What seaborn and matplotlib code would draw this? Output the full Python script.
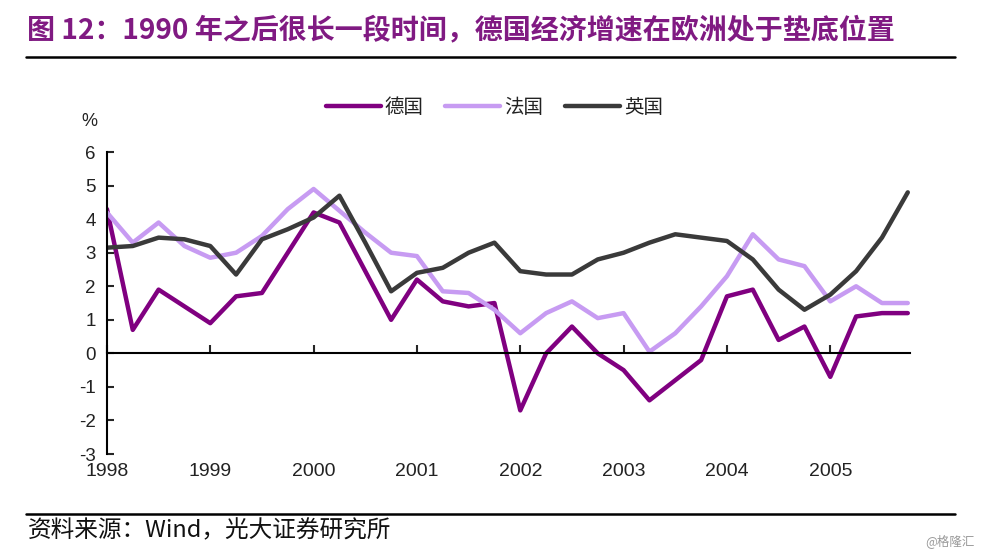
import numpy as np
import pandas as pd
import matplotlib
matplotlib.use("Agg")
import matplotlib.pyplot as plt
import seaborn as sns

# quarterly GDP growth, 1998Q1 - 2005Q4 (%)
germany = [4.3, 0.7, 1.9, 1.4, 0.9, 1.7, 1.8, 3.0, 4.2, 3.9, 2.45, 1.0,
           2.2, 1.55, 1.4, 1.5, -1.7, 0.0, 0.8, 0.0, -0.5, -1.4, -0.8, -0.2,
           1.7, 1.9, 0.4, 0.8, -0.7, 1.1, 1.2, 1.2]
france = [4.2, 3.3, 3.9, 3.2, 2.85, 3.0, 3.5, 4.3, 4.9, 4.25, 3.6, 3.0,
          2.9, 1.85, 1.8, 1.3, 0.6, 1.2, 1.55, 1.05, 1.2, 0.05, 0.6, 1.4,
          2.3, 3.55, 2.8, 2.6, 1.55, 2.0, 1.5, 1.5]
uk = [3.15, 3.2, 3.45, 3.4, 3.2, 2.35, 3.4, 3.7, 4.05, 4.7, 3.3, 1.85,
      2.4, 2.55, 3.0, 3.3, 2.45, 2.35, 2.35, 2.8, 3.0, 3.3, 3.55, 3.45,
      3.35, 2.8, 1.9, 1.3, 1.75, 2.45, 3.45, 4.8]
series_names = ["德国", "法国", "英国"]
year_labels = ["1998", "1999", "2000", "2001", "2002", "2003", "2004", "2005"]

quarters = np.arange(len(germany))
df = pd.DataFrame({"q": quarters, "德国": germany, "法国": france, "英国": uk})
df = df.melt(id_vars="q", var_name="country", value_name="growth")

sns.set_style("white")
plt.rcParams["font.family"] = ["Liberation Sans", "Noto Sans CJK SC", "DejaVu Sans"]
plt.rcParams["axes.unicode_minus"] = False

fig = plt.figure(figsize=(9.81, 5.53), dpi=100)
ax = fig.add_axes([0.109, 0.179, 0.819, 0.546])

palette = {"德国": "#800080", "法国": "#C79BF2", "英国": "#3A3A3A"}
sns.lineplot(data=df, x="q", y="growth", hue="country", hue_order=series_names,
             palette=palette, linewidth=3.2, ax=ax)

ax.set_xlim(0, 31.1)
ax.set_ylim(-3, 6)
ax.set_yticks(range(-3, 7))
ax.set_xticks(range(0, 32, 4))
ax.set_xticklabels(year_labels)
ax.set_xlabel("")
ax.set_ylabel("")

for s in ["top", "right"]:
    ax.spines[s].set_visible(False)
ax.spines["bottom"].set_position(("data", 0))
ax.spines["bottom"].set_color("black")
ax.spines["bottom"].set_linewidth(1.5)
ax.spines["left"].set_color("black")
ax.spines["left"].set_linewidth(1.5)

ax.tick_params(axis="y", direction="in", length=5, width=1.5, labelsize=13.5,
               pad=8, left=True, labelcolor="#222222")
ax.tick_params(axis="x", direction="in", length=6, width=1.5, labelsize=14,
               pad=79, bottom=True, labelcolor="#222222")

leg = ax.legend(loc="center", bbox_to_anchor=(0.504, 0.805), bbox_transform=fig.transFigure,
                ncol=3, frameon=False, fontsize=14, handlelength=2.83,
                handletextpad=0.2, columnspacing=1.13)
for t in leg.get_texts():
    t.set_color("#222222")

fig.text(0.083, 0.781, "%", fontsize=13, color="#222222", ha="left", va="center")

fig.text(0.028, 0.946, "图 12：1990 年之后很长一段时间，德国经济增速在欧洲处于垫底位置",
         fontsize=20.2, fontweight="bold", color="#801A82", ha="left", va="center",
         family=["Noto Sans CJK SC", "DejaVu Sans"])
fig.add_artist(plt.Line2D([0.027, 0.974], [0.897, 0.897], color="black", lw=1.8))
fig.add_artist(plt.Line2D([0.027, 0.974], [0.071, 0.071], color="black", lw=1.8))
fig.text(0.028, 0.040, "资料来源：Wind，光大证券研究所", fontsize=17, color="#111111",
         ha="left", va="center", family=["Noto Sans CJK SC", "DejaVu Sans"])
fig.text(0.993, 0.022, "@格隆汇", fontsize=9, color="#9A9A9A", ha="right", va="center",
         family=["Noto Sans CJK SC", "DejaVu Sans"])

fig.savefig("out.png", dpi=100)
